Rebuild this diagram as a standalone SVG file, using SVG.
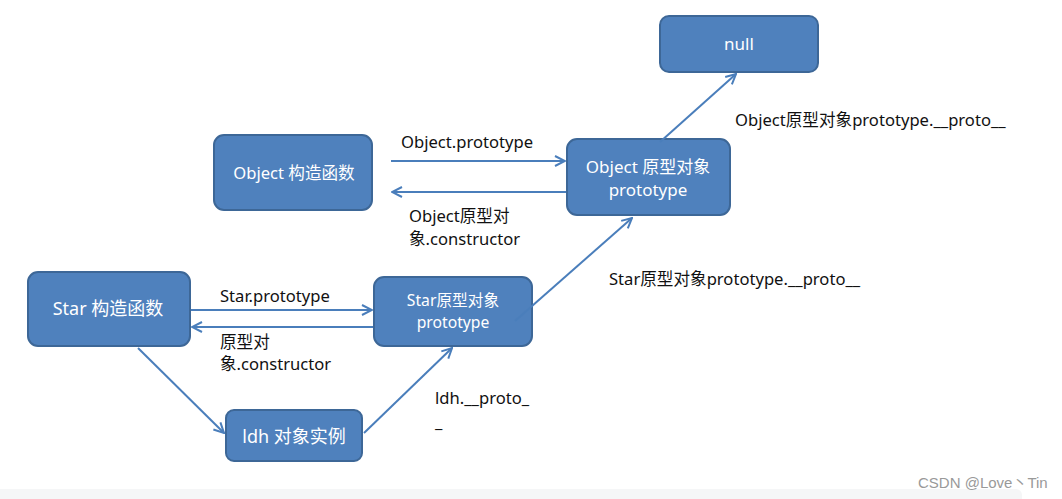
<svg xmlns="http://www.w3.org/2000/svg" width="1062" height="499" viewBox="0 0 1062 499">
<defs>
<style>
.box{fill:#4F81BD;stroke:#3D6797;stroke-width:2}
.nt{fill:#fff;font-family:"Noto Sans","Noto Sans CJK SC",sans-serif;text-anchor:middle}
.lb{fill:#111;font-family:"Noto Sans","Noto Sans CJK SC",sans-serif;font-size:16.6px}
.ln{stroke:#4A7EBB;stroke-width:2;fill:none}
</style>
<marker id="ah" viewBox="0 0 12 12" refX="11" refY="6" markerWidth="12" markerHeight="12" markerUnits="userSpaceOnUse" orient="auto">
<path d="M1,1 L11,6 L1,11" fill="none" stroke="#4A7EBB" stroke-width="2"/>
</marker>
</defs>
<rect width="1062" height="499" fill="#fff"/>
<path d="M0,489 H1016 a6,6 0 0 1 6,6 V499 H0 Z" fill="#f5f6f7"/>
<text x="918" y="488" font-family="Liberation Sans,Noto Sans CJK SC,sans-serif" font-size="15" fill="#999">CSDN @Love丶Tin</text>

<g id="null"><rect class="box" x="660" y="16" width="158" height="56" rx="9"/><text class="nt" x="739" y="50" font-size="17">null</text></g>
<g id="objCtor"><rect class="box" x="214" y="135" width="158" height="75" rx="10"/><text class="nt" x="294" y="179" font-size="16.6">Object 构造函数</text></g>
<g id="objProto"><rect class="box" x="567" y="139" width="163" height="76" rx="10"/><text class="nt" x="648" y="173" font-size="17">Object 原型对象</text><text class="nt" x="648" y="196" font-size="17">prototype</text></g>
<g id="starCtor"><rect class="box" x="28" y="272" width="162" height="74" rx="10"/><text class="nt" x="108" y="315" font-size="18">Star 构造函数</text></g>
<g id="starProto"><rect class="box" x="374" y="277" width="158" height="69" rx="10"/><text class="nt" x="453" y="306" font-size="15.7">Star原型对象</text><text class="nt" x="453" y="328" font-size="15.7">prototype</text></g>
<g id="ldh"><rect class="box" x="226" y="410" width="136" height="51" rx="8"/><text class="nt" x="294" y="443" font-size="18">ldh 对象实例</text></g>

<g id="connectors">
<line class="ln" x1="391" y1="161" x2="565" y2="161" marker-end="url(#ah)"/>
<line class="ln" x1="566" y1="192" x2="392" y2="192" marker-end="url(#ah)"/>
<line class="ln" x1="191" y1="310" x2="372" y2="310" marker-end="url(#ah)"/>
<line class="ln" x1="373" y1="327" x2="192" y2="327" marker-end="url(#ah)"/>
<line class="ln" x1="138" y1="348" x2="224" y2="433" marker-end="url(#ah)"/>
<line class="ln" x1="364" y1="433" x2="452" y2="348" marker-end="url(#ah)"/>
<line class="ln" x1="515" y1="321" x2="632" y2="218" marker-end="url(#ah)"/>
<line class="ln" x1="660" y1="142" x2="736" y2="74" marker-end="url(#ah)"/>
</g>

<g id="labels">
<text class="lb" x="401" y="148">Object.prototype</text>
<text class="lb" x="409" y="222">Object原型对</text>
<text class="lb" x="409" y="245">象.constructor</text>
<text class="lb" x="735" y="126">Object原型对象prototype.__proto__</text>
<text class="lb" x="609" y="285">Star原型对象prototype.__proto__</text>
<text class="lb" x="220" y="302">Star.prototype</text>
<text class="lb" x="220" y="348">原型对</text>
<text class="lb" x="220" y="370">象.constructor</text>
<text class="lb" x="435" y="404">ldh.__proto_</text>
<text class="lb" x="435" y="428">_</text>
</g>
</svg>
